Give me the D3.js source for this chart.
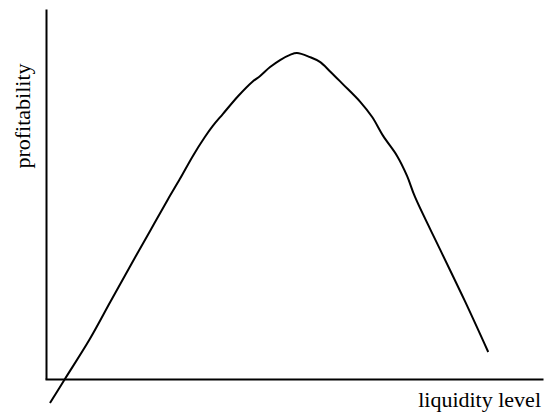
<!DOCTYPE html>
<html>
<head>
<meta charset="utf-8">
<script src="https://cdn.jsdelivr.net/npm/d3@7"></script>
<style>
  body { margin: 0; background: #fff; }
  svg { display: block; }
  .axis path { stroke: #000; stroke-width: 2px; }
  .lbl { font: 22px "Liberation Serif", "Times New Roman", serif; fill: #000; }
</style>
</head>
<body>
<svg width="544" height="413"></svg>
<script>
// liquidity level (x) vs profitability (y), arbitrary units 0-100
var liquidity = [1.0, 4.0, 9.0, 13.1, 17.1, 21.1, 24.7, 27.1, 29.7, 32.1, 33.7, 35.7, 38.8, 41.6, 43.2, 45.2,
  47.2, 49.2, 50.6, 53.2, 55.2, 57.2, 59.8, 63.3, 65.7, 67.9, 70.7, 72.7, 74.3, 79.3, 84.3, 89.0];
var profitability = [-6.5, 0, 10.8, 20.8, 30.5, 40, 48.6, 54.1, 60.3, 65.4, 68.4, 71.6, 76.5, 80.3, 81.9, 84.3,
  86.2, 87.6, 88.1, 87, 85.7, 83.2, 79.7, 74.9, 70.8, 65.7, 60.3, 54.9, 49.2, 35.1, 21.1, 7.3];
var xLabel = "liquidity level",
    yLabel = "profitability";

var svg = d3.select("svg");

var xScale = d3.scaleLinear().domain([0, 100]).range([45, 543]);
var yScale = d3.scaleLinear().domain([0, 100]).range([379, 9]);

var points = liquidity.map(function(d, i) { return [d, profitability[i]]; });

var line = d3.line()
  .x(function(d) { return xScale(d[0]); })
  .y(function(d) { return yScale(d[1]); })
  .curve(d3.curveCatmullRom);

svg.append("g")
  .attr("class", "axis")
  .attr("transform", "translate(0," + yScale(0) + ")")
  .call(d3.axisBottom(xScale).ticks(0).tickSizeOuter(0));

svg.append("g")
  .attr("class", "axis")
  .attr("transform", "translate(" + (xScale(0) + 1) + ",0)")
  .call(d3.axisLeft(yScale).ticks(0).tickSizeOuter(0));

svg.append("path")
  .datum(points)
  .attr("d", line)
  .attr("fill", "none")
  .attr("stroke", "#000")
  .attr("stroke-width", 2);

svg.append("text")
  .attr("class", "lbl")
  .attr("x", 541)
  .attr("y", 407)
  .attr("text-anchor", "end")
  .text(xLabel);

svg.append("text")
  .attr("class", "lbl")
  .attr("transform", "translate(30,116) rotate(-90)")
  .attr("text-anchor", "middle")
  .text(yLabel);
</script>
</body>
</html>
